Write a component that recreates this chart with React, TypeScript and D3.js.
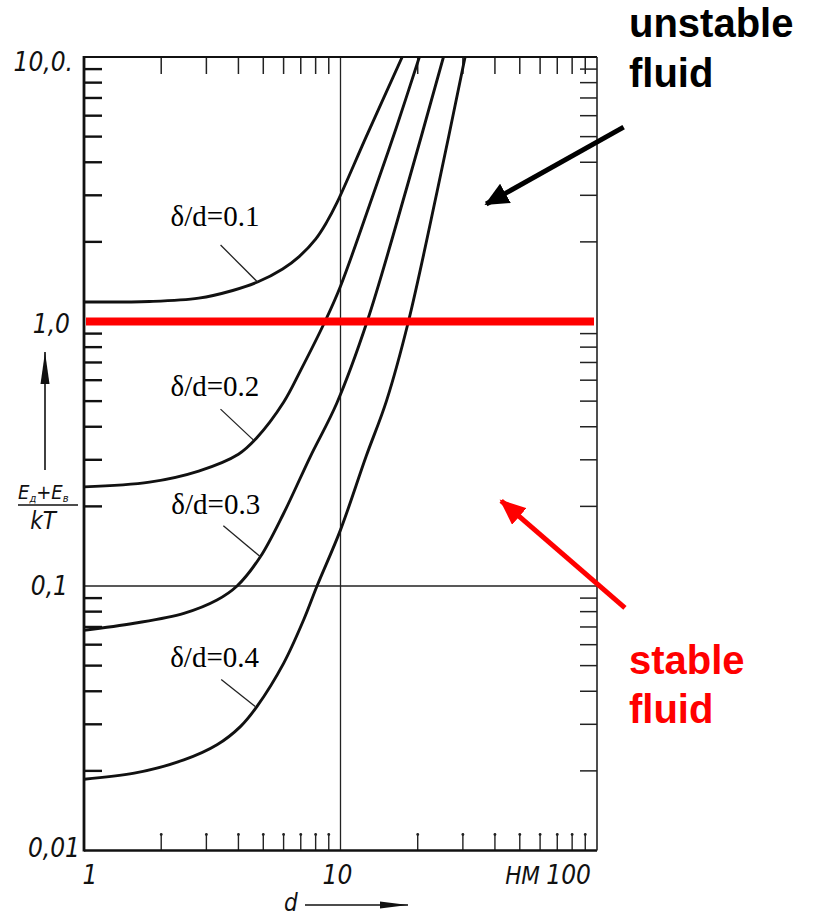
import React from "react";
import * as d3 from "d3";

// ---- data ----
const D1 = [1, 1.8, 2.8, 3.8, 4.75, 5.95, 6.9, 8.0, 8.8, 9.7, 12.6, 17.4];
const V1 = [1.185, 1.19, 1.225, 1.31, 1.41, 1.58, 1.76, 2.05, 2.36, 2.82, 5.0, 10];
const D2 = [1, 1.8, 2.8, 4.0, 4.7, 6.0, 7.0, 8.7, 10, 13.3, 16.5, 20.3];
const V2 = [0.237, 0.247, 0.272, 0.315, 0.362, 0.495, 0.655, 1.0, 1.36, 2.95, 5.4, 10];
const D3 = [1, 1.57, 2.45, 3.3, 3.95, 4.87, 6.0, 7.62, 9.67, 12.7, 18.1, 25.2];
const V3 = [0.068, 0.0723, 0.0788, 0.0885, 0.1, 0.129, 0.188, 0.308, 0.491, 1.0, 3.19, 10];
const D4 = [1, 1.57, 2.45, 3.3, 4.07, 4.72, 6.0, 7.18, 8.1, 10, 12.6, 15.1, 18.4, 23.8, 30.6];
const V4 = [0.0186, 0.0196, 0.022, 0.0251, 0.0294, 0.035, 0.051, 0.0744, 0.1, 0.163, 0.31, 0.5, 1.0, 3.1, 10];

const SERIES_LABELS = ["δ/d=0.1", "δ/d=0.2", "δ/d=0.3", "δ/d=0.4"];
// point on each curve where the label's pointer touches it (d, value)
const POINTER_D = [4.75, 4.58, 4.87, 4.65];
const POINTER_V = [1.41, 0.356, 0.129, 0.035];

const X_DOMAIN = [1, 100];
const Y_DOMAIN = [0.01, 10];
const Y_TICK_VALUES = [10, 1, 0.1, 0.01];
const Y_TICK_LABELS = ["10,0.", "1,0", "0,1", "0,01"];
const X_TICK_VALUES = [1, 10, 100];
const X_TICK_LABELS = ["1", "10", "100"];
const X_UNIT = "НМ";
const THRESHOLD = 1.0;

// annotation arrows in data coordinates: [fromD, fromV, toD, toV]
const UNSTABLE_ARROW = [127, 5.43, 37, 2.78];
const STABLE_ARROW = [128.5, 0.0826, 42.3, 0.21];

export default function App() {
  const W = 816, H = 917;
  const left = 84, right = 597, top = 57, bottom = 850.5;
  const x = d3.scaleLog().domain(X_DOMAIN).range([left, right]);
  const y = d3.scaleLog().domain(Y_DOMAIN).range([bottom, top]);

  const series = [
    D1.map((d, i) => [d, V1[i]]),
    D2.map((d, i) => [d, V2[i]]),
    D3.map((d, i) => [d, V3[i]]),
    D4.map((d, i) => [d, V4[i]]),
  ];
  const line = d3
    .line<number[]>()
    .x((p) => x(p[0]))
    .y((p) => y(p[1]))
    .curve(d3.curveCatmullRom.alpha(0.5));

  const minor = (lo: number, hi: number) => {
    const out: number[] = [];
    for (let k = lo; k < hi; k *= 10) for (let m = 2; m <= 9; m++) out.push(k * m);
    return out;
  };
  const xMinor = minor(1, 100);
  const yMinor = minor(0.01, 10);

  const labelFont = "'Liberation Sans Narrow', 'DejaVu Sans Condensed', 'Liberation Sans', sans-serif";
  const ptrOffsets = [
    [-37, -37, -50, -19],
    [-33, -31, -50, -13],
    [-37, -31, -52, -12],
    [-34, -27, -51, -13],
  ];

  const arrowPath = (a: number[]) => [x(a[0]), y(a[1]), x(a[2]), y(a[3])];
  const ua = arrowPath(UNSTABLE_ARROW);
  const sa = arrowPath(STABLE_ARROW);

  return (
    <svg width={W} height={H} style={{ position: "absolute", left: 0, top: 0, background: "#fff" }}>
      <defs>
        <clipPath id="plot">
          <rect x={left} y={top} width={right - left} height={bottom - top} />
        </clipPath>
        <marker id="headBlack" markerUnits="userSpaceOnUse" markerWidth="26" markerHeight="22"
          refX="22" refY="11" orient="auto">
          <path d="M0,0 L24,11 L0,22 Z" fill="#000" />
        </marker>
        <marker id="headRed" markerUnits="userSpaceOnUse" markerWidth="28" markerHeight="22"
          refX="24" refY="11" orient="auto">
          <path d="M0,0 L26,11 L0,22 Z" fill="#ff0000" />
        </marker>
        <marker id="headSmall" markerUnits="userSpaceOnUse" markerWidth="30" markerHeight="10"
          refX="28" refY="5" orient="auto">
          <path d="M0,1.5 L28,5 L0,8.5 Z" fill="#111" />
        </marker>
        <marker id="headUp" markerUnits="userSpaceOnUse" markerWidth="34" markerHeight="12"
          refX="32" refY="6" orient="auto">
          <path d="M0,1.5 L32,6 L0,10.5 Z" fill="#111" />
        </marker>
      </defs>

      {/* inner grid lines at d=10 and value=0.1 */}
      <line x1={x(10)} x2={x(10)} y1={top} y2={bottom} stroke="#222" strokeWidth={1.3} />
      <line x1={left} x2={right} y1={y(0.1)} y2={y(0.1)} stroke="#222" strokeWidth={1.3} />

      {/* ticks */}
      {yMinor.map((v) => (
        <g key={"yt" + v}>
          <line x1={left} x2={left + 18} y1={y(v)} y2={y(v)} stroke="#111" strokeWidth={2.4} />
          <line x1={right - 17} x2={right} y1={y(v)} y2={y(v)} stroke="#222" strokeWidth={1.5} />
        </g>
      ))}
      {xMinor.map((d) => (
        <g key={"xt" + d}>
          <line x1={x(d)} x2={x(d)} y1={top} y2={top + 17} stroke="#222" strokeWidth={1.5} />
          <line x1={x(d)} x2={x(d)} y1={bottom} y2={bottom - 16} stroke="#222" strokeWidth={1.4} />
          <circle cx={x(d)} cy={bottom - 16} r={1.4} fill="#222" />
        </g>
      ))}

      {/* frame */}
      <line x1={left} x2={left} y1={top - 1} y2={bottom + 1} stroke="#111" strokeWidth={2.8} />
      <line x1={left} x2={right} y1={top} y2={top} stroke="#111" strokeWidth={2} />
      <line x1={left} x2={right} y1={bottom} y2={bottom} stroke="#111" strokeWidth={2.4} />
      <line x1={right} x2={right} y1={top} y2={bottom} stroke="#222" strokeWidth={1.6} />

      {/* curves */}
      <g clipPath="url(#plot)">
        {series.map((s, i) => (
          <path key={i} d={line(s) || ""} fill="none" stroke="#111" strokeWidth={2.9} />
        ))}
      </g>

      {/* threshold */}
      <line x1={left + 2} x2={right - 3} y1={y(THRESHOLD)} y2={y(THRESHOLD)} stroke="#ff0000" strokeWidth={8} />

      {/* curve labels with pointers */}
      {SERIES_LABELS.map((lab, i) => {
        const px = x(POINTER_D[i]);
        const py = y(POINTER_V[i]);
        const o = ptrOffsets[i];
        const sx = px + o[0], sy = py + o[1];
        return (
          <g key={lab}>
            <line x1={sx} y1={sy} x2={px} y2={py} stroke="#222" strokeWidth={1.3} />
            <text x={sx + o[2]} y={sy + o[3]} fontFamily="'Liberation Serif', 'Times New Roman', serif"
              fontSize={29} fill="#000">{lab}</text>
          </g>
        );
      })}

      {/* y tick labels */}
      {Y_TICK_VALUES.map((v, i) => (
        <text key={"yl" + v} x={[73, 70, 68, 80][i]} y={y(v) + [14, 11, 9, 6][i]} textAnchor="end"
          fontFamily={labelFont} fontStyle="italic" fontSize={26} fill="#111">
          {Y_TICK_LABELS[i]}
        </text>
      ))}
      {/* x tick labels */}
      {X_TICK_VALUES.map((d, i) => (
        <text key={"xl" + d} x={x(d) + [6, -3, -6][i]} y={884} textAnchor={i === 2 ? "end" : "middle"}
          fontFamily={labelFont} fontStyle="italic" fontSize={26} fill="#111">
          {X_TICK_LABELS[i]}
        </text>
      ))}
      <text x={540} y={884} textAnchor="end" fontFamily={labelFont} fontStyle="italic" fontSize={24} fill="#111">
        {X_UNIT}
      </text>

      {/* x axis title */}
      <text x={284} y={911} fontFamily={labelFont} fontStyle="italic" fontSize={24} fill="#111">d</text>
      <line x1={305} y1={905} x2={408} y2={905} stroke="#111" strokeWidth={1.4} markerEnd="url(#headSmall)" />

      {/* y axis title */}
      <line x1={45} y1={470} x2={45} y2={352} stroke="#111" strokeWidth={1.6} markerEnd="url(#headUp)" />
      <text x={18} y={499} fontFamily={labelFont} fontStyle="italic" fontSize={20} fill="#111">
        E<tspan fontSize={11} dy={3}>д</tspan><tspan dy={-3}>+</tspan>E<tspan fontSize={11} dy={3}>в</tspan>
      </text>
      <line x1={18} x2={78} y1={505} y2={505} stroke="#111" strokeWidth={1.5} />
      <text x={43} y={529} textAnchor="middle" fontFamily={labelFont} fontStyle="italic" fontSize={24} fill="#111">kT</text>

      {/* annotations */}
      <line x1={ua[0]} y1={ua[1]} x2={ua[2]} y2={ua[3]} stroke="#000" strokeWidth={5} markerEnd="url(#headBlack)" />
      <line x1={sa[0]} y1={sa[1]} x2={sa[2]} y2={sa[3]} stroke="#ff0000" strokeWidth={5} markerEnd="url(#headRed)" />
      <text fontFamily="'Liberation Sans', Arial, sans-serif" fontWeight="bold" fontSize={40} fill="#000">
        <tspan x={629} y={37}>unstable</tspan>
        <tspan x={629} y={87}>fluid</tspan>
      </text>
      <text fontFamily="'Liberation Sans', Arial, sans-serif" fontWeight="bold" fontSize={40} fill="#ff0000">
        <tspan x={629} y={674}>stable</tspan>
        <tspan x={629} y={723}>fluid</tspan>
      </text>
    </svg>
  );
}
